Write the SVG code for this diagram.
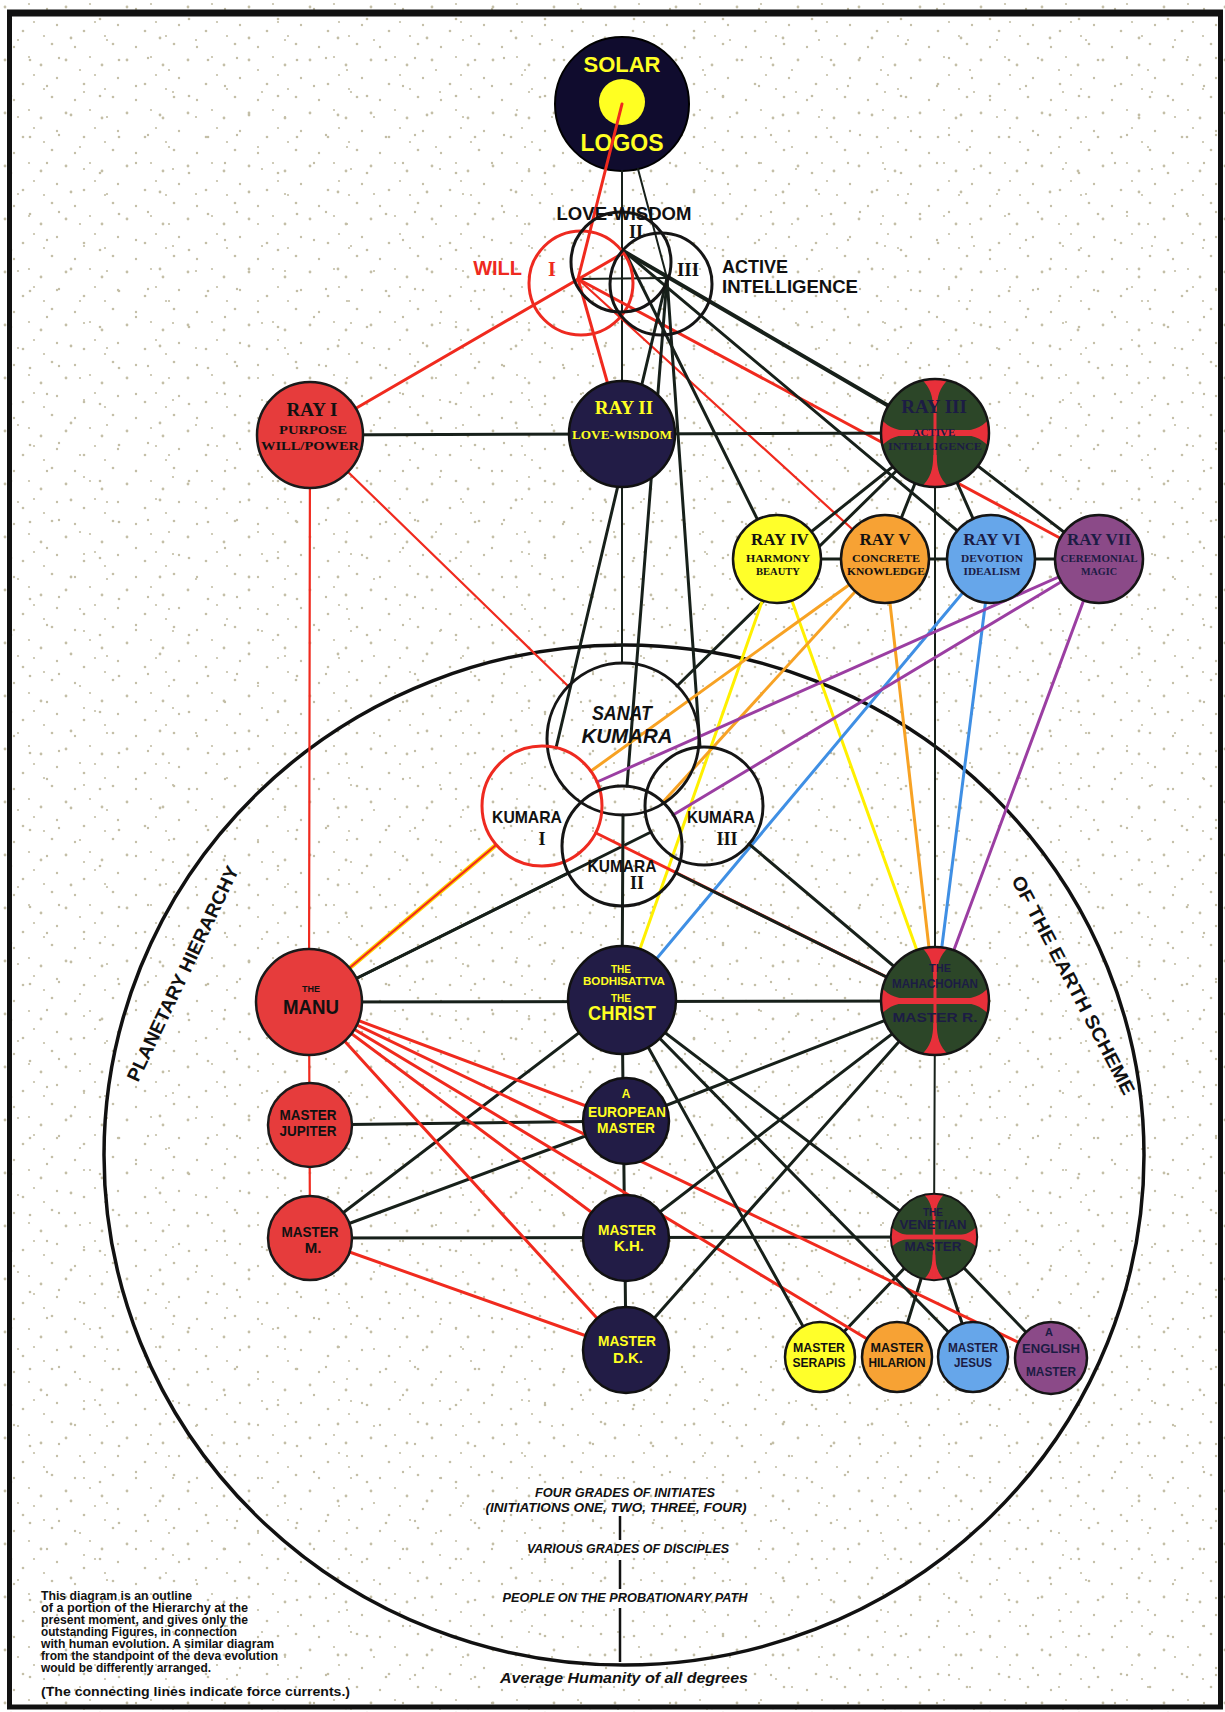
<svg xmlns="http://www.w3.org/2000/svg" width="1225" height="1712" viewBox="0 0 1225 1712">
<defs>
<style>
.k{stroke:#17201a;stroke-width:3;stroke-linecap:round}
.k2{stroke:#17201a;stroke-width:2;stroke-linecap:round}
.k4{stroke:#17201a;stroke-width:4;stroke-linecap:round}
.r{stroke:#f02a1e;stroke-width:3;stroke-linecap:round}
.r2{stroke:#f02a1e;stroke-width:2.2;stroke-linecap:round}
.y{stroke:#fff000;stroke-width:3;stroke-linecap:round}
.o{stroke:#f7a224;stroke-width:3;stroke-linecap:round}
.b{stroke:#3f8fe4;stroke-width:3;stroke-linecap:round}
.p{stroke:#9b3ea2;stroke-width:3;stroke-linecap:round}
.t{font-family:"Liberation Sans",Arial,sans-serif;font-weight:bold;text-anchor:middle}
.s{font-family:"Liberation Serif","Times New Roman",serif;font-weight:bold;text-anchor:middle}
.it{font-family:"Liberation Sans",Arial,sans-serif;font-weight:bold;font-style:italic;text-anchor:middle;fill:#111}
.n{font-family:"Liberation Sans",Arial,sans-serif;font-weight:bold;fill:#111;font-size:12px}
.ol{fill:none;stroke-width:3}
.red{fill:#e63c3c;stroke:#1a1a1a;stroke-width:2.5}
.navy{fill:#221c46;stroke:#111;stroke-width:2.5}
.yl{fill:#ffff22}
.dk{fill:#111}
.dg{fill:#1c1c44}
</style>
<pattern id="sp1" width="61" height="53" patternUnits="userSpaceOnUse">
<g fill="#c4bfa7"><circle cx="5" cy="7" r="1.4"/><circle cx="23" cy="31" r="1.3"/><circle cx="41" cy="12" r="1.4"/><circle cx="52" cy="44" r="1.3"/><circle cx="14" cy="47" r="1.2"/><circle cx="34" cy="22" r="1.1"/><circle cx="57" cy="25" r="1.2"/><circle cx="29" cy="4" r="1.1"/><circle cx="44" cy="36" r="1.1"/></g>
</pattern>
<pattern id="sp2" width="89" height="77" patternUnits="userSpaceOnUse">
<g fill="#c2bda5"><circle cx="11" cy="19" r="1.3"/><circle cx="47" cy="9" r="1.2"/><circle cx="71" cy="38" r="1.4"/><circle cx="30" cy="60" r="1.3"/><circle cx="80" cy="70" r="1.1"/><circle cx="59" cy="58" r="1.2"/><circle cx="18" cy="40" r="1.1"/><circle cx="84" cy="15" r="1.1"/></g>
</pattern>
<clipPath id="gc"><circle r="54"/></clipPath>
<path id="wedge" d="M-16,-56 C-5,-47 -2,-38 -1.6,-22 L1.6,-22 C2,-38 5,-47 16,-56 Z"/>
<g id="gnode">
<circle r="54" fill="#2c4628"/>
<g clip-path="url(#gc)" fill="#e8303a">
<use href="#wedge"/>
<use href="#wedge" transform="rotate(90)"/>
<use href="#wedge" transform="rotate(180)"/>
<use href="#wedge" transform="rotate(270)"/>
<rect x="-1.5" y="-54" width="3" height="108"/>
<rect x="-54" y="-3" width="108" height="6"/>
</g>
<circle r="54" fill="none" stroke="#151515" stroke-width="2.5"/>
</g>
</defs>

<rect width="1225" height="1712" fill="#ffffff"/>
<rect width="1225" height="1712" fill="url(#sp1)"/>
<rect width="1225" height="1712" fill="url(#sp2)"/>
<rect x="9.5" y="13" width="1211" height="1694" fill="none" stroke="#111" stroke-width="5"/>
<line x1="7" y1="13" x2="1223" y2="13" stroke="#111" stroke-width="7"/>

<g id="earth-scheme">
<ellipse cx="624" cy="1155" rx="520" ry="510" fill="none" stroke="#111" stroke-width="3.5"/>
<text class="t" font-size="19" fill="#111" transform="translate(138,1083) rotate(-64.6)" textLength="236" lengthAdjust="spacingAndGlyphs" style="text-anchor:start">PLANETARY HIERARCHY</text>
<text class="t" font-size="19" fill="#111" transform="translate(1011,880) rotate(62.4)" textLength="244" lengthAdjust="spacingAndGlyphs" style="text-anchor:start">OF THE EARTH SCHEME</text>
</g>

<g id="solar-logos">
<circle cx="622" cy="104" r="67" fill="#100c2e" stroke="#000" stroke-width="2"/>
<circle cx="622" cy="102" r="23" fill="#ffff22"/>
<text class="t yl" x="622" y="72" font-size="22">SOLAR</text>
<text class="t yl" x="622" y="151" font-size="23">LOGOS</text>
</g>

<g id="connectors" fill="none">
<line x1="622" y1="104" x2="578" y2="279" class="r"/>
<line x1="622" y1="171" x2="622" y2="434" class="k2"/>
<line x1="638" y1="169" x2="667" y2="278" class="k2"/>
<line x1="578" y1="279" x2="667" y2="278" class="k2"/>
<line x1="310" y1="435" x2="625" y2="252" class="r"/>
<line x1="578" y1="279" x2="622" y2="434" class="r"/>
<line x1="578" y1="279" x2="1099" y2="559" class="r"/>
<line x1="578" y1="279" x2="885" y2="559" class="r2"/>
<line x1="625" y1="252" x2="935" y2="433" class="k4"/>
<line x1="625" y1="252" x2="777" y2="559" class="k"/>
<line x1="625" y1="252" x2="991" y2="559" class="k"/>
<line x1="667" y1="278" x2="556" y2="748" class="k"/>
<line x1="667" y1="278" x2="627" y2="786" class="k"/>
<line x1="667" y1="278" x2="700" y2="747" class="k"/>
<line x1="310" y1="435" x2="622" y2="434" class="k"/>
<line x1="622" y1="434" x2="935" y2="433" class="k"/>
<line x1="310" y1="435" x2="309" y2="1002" class="r2"/>
<line x1="310" y1="435" x2="568" y2="686" class="r2"/>
<line x1="622" y1="434" x2="622" y2="663" class="k2"/>
<line x1="935" y1="433" x2="677" y2="686" class="k"/>
<line x1="935" y1="433" x2="777" y2="559" class="k"/>
<line x1="935" y1="433" x2="885" y2="559" class="k"/>
<line x1="935" y1="433" x2="991" y2="559" class="k"/>
<line x1="935" y1="433" x2="1099" y2="559" class="k"/>
<line x1="777" y1="559" x2="1099" y2="559" class="k"/>
<line x1="935" y1="433" x2="935" y2="1001" class="k2"/>
<line x1="777" y1="559" x2="622" y2="1000" class="y"/>
<line x1="777" y1="559" x2="935" y2="1001" class="y"/>
<line x1="885" y1="559" x2="591" y2="771" class="o"/>
<line x1="885" y1="559" x2="663" y2="802" class="o"/>
<line x1="885" y1="559" x2="935" y2="1001" class="o"/>
<line x1="991" y1="559" x2="622" y2="1000" class="b"/>
<line x1="991" y1="559" x2="935" y2="1001" class="b"/>
<line x1="1099" y1="559" x2="597" y2="782" class="p"/>
<line x1="1099" y1="559" x2="673" y2="815" class="p"/>
<line x1="1099" y1="559" x2="935" y2="1001" class="p"/>
<line x1="309" y1="1002" x2="496" y2="845" stroke="#ffd000" stroke-width="4.5"/>
<line x1="309" y1="1002" x2="496" y2="845" class="r2"/>
<line x1="309" y1="1002" x2="568" y2="873" class="k"/>
<line x1="309" y1="1002" x2="651" y2="832" class="k"/>
<line x1="596" y1="833" x2="935" y2="1001" class="r"/>
<line x1="676" y1="873" x2="935" y2="1001" class="k"/>
<line x1="749" y1="844" x2="935" y2="1001" class="k"/>
<line x1="623" y1="815" x2="622" y2="1000" class="k"/>
<line x1="309" y1="1002" x2="935" y2="1001" class="k"/>
<line x1="309" y1="1002" x2="310" y2="1238" class="r2"/>
<line x1="310" y1="1125" x2="626" y2="1121" class="k"/>
<line x1="310" y1="1238" x2="934" y2="1237" class="k"/>
<line x1="622" y1="1000" x2="626" y2="1350" class="k"/>
<line x1="935" y1="1001" x2="934" y2="1237" class="k2"/>
<line x1="934" y1="1237" x2="820" y2="1357" class="k"/>
<line x1="934" y1="1237" x2="897" y2="1357" class="k"/>
<line x1="934" y1="1237" x2="973" y2="1357" class="k"/>
<line x1="934" y1="1237" x2="1051" y2="1358" class="k"/>
<line x1="310" y1="1238" x2="622" y2="1000" class="k"/>
<line x1="310" y1="1238" x2="626" y2="1121" class="k"/>
<line x1="309" y1="1002" x2="626" y2="1121" class="r"/>
<line x1="309" y1="1002" x2="1051" y2="1358" class="r"/>
<line x1="309" y1="1002" x2="897" y2="1357" class="r"/>
<line x1="309" y1="1002" x2="626" y2="1238" class="r"/>
<line x1="309" y1="1002" x2="626" y2="1350" class="r"/>
<line x1="310" y1="1238" x2="626" y2="1350" class="r"/>
<line x1="622" y1="1000" x2="934" y2="1237" class="k"/>
<line x1="622" y1="1000" x2="973" y2="1357" class="k"/>
<line x1="622" y1="1000" x2="820" y2="1357" class="k"/>
<line x1="935" y1="1001" x2="626" y2="1121" class="k"/>
<line x1="935" y1="1001" x2="626" y2="1238" class="k"/>
<line x1="935" y1="1001" x2="626" y2="1350" class="k"/>
</g>

<g id="aspect-will">
<circle cx="581" cy="283" r="52" class="ol" stroke="#ee2a20" stroke-width="2.5"/>
<text class="t" x="522" y="275" font-size="20" fill="#ee2a20" style="text-anchor:end">WILL</text>
<text class="s" x="552" y="276" font-size="20" fill="#ee2a20">I</text>
</g>
<g id="aspect-love-wisdom">
<circle cx="621" cy="262" r="50" class="ol" stroke="#151515" stroke-width="2.5"/>
<text class="t dk" x="624" y="220" font-size="19" textLength="135" lengthAdjust="spacingAndGlyphs">LOVE-WISDOM</text>
<text class="s dk" x="636" y="238" font-size="18">II</text>
</g>
<g id="aspect-active-intelligence">
<circle cx="661" cy="284" r="51" class="ol" stroke="#151515" stroke-width="2.5"/>
<text class="s dk" x="688" y="276" font-size="19">III</text>
<text class="t dk" x="722" y="273" font-size="18" style="text-anchor:start">ACTIVE</text>
<text class="t dk" x="722" y="293" font-size="18" style="text-anchor:start" textLength="136" lengthAdjust="spacingAndGlyphs">INTELLIGENCE</text>
</g>

<g id="ray-1">
<circle cx="310" cy="435" r="53" class="red"/>
<text class="s dk" x="312" y="416" font-size="19">RAY I</text>
<text class="s dk" x="313" y="434" font-size="12" textLength="68" lengthAdjust="spacingAndGlyphs">PURPOSE</text>
<text class="s dk" x="310" y="450" font-size="12" textLength="98" lengthAdjust="spacingAndGlyphs">WILL/POWER</text>
</g>
<g id="ray-2">
<circle cx="622" cy="434" r="53" class="navy"/>
<text class="s yl" x="624" y="414" font-size="19">RAY II</text>
<text class="s yl" x="622" y="439" font-size="12" textLength="100" lengthAdjust="spacingAndGlyphs">LOVE-WISDOM</text>
</g>
<g id="ray-3">
<use href="#gnode" transform="translate(935,433)"/>
<text class="s dg" x="934" y="413" font-size="19">RAY III</text>
<text class="s dg" x="934" y="436" font-size="11">ACTIVE</text>
<text class="s dg" x="935" y="450" font-size="11" textLength="94" lengthAdjust="spacingAndGlyphs">INTELLIGENCE</text>
</g>
<g id="ray-4">
<circle cx="777" cy="559" r="44" fill="#ffff2a" stroke="#151515" stroke-width="2.5"/>
<text class="s dk" x="780" y="545" font-size="17">RAY IV</text>
<text class="s dk" x="778" y="562" font-size="11" textLength="64" lengthAdjust="spacingAndGlyphs">HARMONY</text>
<text class="s dk" x="778" y="575" font-size="11" textLength="44" lengthAdjust="spacingAndGlyphs">BEAUTY</text>
</g>
<g id="ray-5">
<circle cx="885" cy="559" r="44" fill="#f7a234" stroke="#151515" stroke-width="2.5"/>
<text class="s dk" x="885" y="545" font-size="17">RAY V</text>
<text class="s dk" x="886" y="562" font-size="11" textLength="68" lengthAdjust="spacingAndGlyphs">CONCRETE</text>
<text class="s dk" x="886" y="575" font-size="11" textLength="78" lengthAdjust="spacingAndGlyphs">KNOWLEDGE</text>
</g>
<g id="ray-6">
<circle cx="991" cy="559" r="44" fill="#66a6ea" stroke="#151515" stroke-width="2.5"/>
<text class="s dg" x="992" y="545" font-size="17">RAY VI</text>
<text class="s dg" x="992" y="562" font-size="11" textLength="62" lengthAdjust="spacingAndGlyphs">DEVOTION</text>
<text class="s dg" x="992" y="575" font-size="11" textLength="57" lengthAdjust="spacingAndGlyphs">IDEALISM</text>
</g>
<g id="ray-7">
<circle cx="1099" cy="559" r="44" fill="#8b4a88" stroke="#151515" stroke-width="2.5"/>
<text class="s dg" x="1099" y="545" font-size="17">RAY VII</text>
<text class="s dg" x="1099" y="562" font-size="11" textLength="77" lengthAdjust="spacingAndGlyphs">CEREMONIAL</text>
<text class="s dg" x="1099" y="575" font-size="11" textLength="36" lengthAdjust="spacingAndGlyphs">MAGIC</text>
</g>

<g id="sanat-kumara">
<circle cx="623" cy="739" r="76" class="ol" stroke="#151515" stroke-width="4"/>
<text class="it" x="622" y="720" font-size="21" textLength="60" lengthAdjust="spacingAndGlyphs">SANAT</text>
<text class="it" x="627" y="743" font-size="21" textLength="91" lengthAdjust="spacingAndGlyphs">KUMARA</text>
</g>
<g id="kumara-1">
<circle cx="542" cy="806" r="60" class="ol" stroke="#ee2a20" stroke-width="2.5"/>
<text class="t dk" x="527" y="823" font-size="17" textLength="70" lengthAdjust="spacingAndGlyphs">KUMARA</text>
<text class="s dk" x="542" y="845" font-size="18">I</text>
</g>
<g id="kumara-3">
<circle cx="704" cy="806" r="59" class="ol" stroke="#151515" stroke-width="3"/>
<text class="t dk" x="721" y="823" font-size="17" textLength="68" lengthAdjust="spacingAndGlyphs">KUMARA</text>
<text class="s dk" x="727" y="845" font-size="18">III</text>
</g>
<g id="kumara-2">
<circle cx="622" cy="846" r="60" class="ol" stroke="#151515" stroke-width="3"/>
<text class="t dk" x="622" y="872" font-size="17" textLength="69" lengthAdjust="spacingAndGlyphs">KUMARA</text>
<text class="s dk" x="637" y="889" font-size="18">II</text>
</g>

<g id="manu">
<circle cx="309" cy="1002" r="53" class="red"/>
<text class="t dk" x="311" y="992" font-size="9">THE</text>
<text class="t dk" x="311" y="1014" font-size="21" textLength="56" lengthAdjust="spacingAndGlyphs">MANU</text>
</g>
<g id="christ">
<circle cx="622" cy="1000" r="54" class="navy"/>
<text class="t yl" x="621" y="973" font-size="10">THE</text>
<text class="t yl" x="624" y="985" font-size="10" textLength="82" lengthAdjust="spacingAndGlyphs">BODHISATTVA</text>
<text class="t yl" x="621" y="1002" font-size="10">THE</text>
<text class="t yl" x="622" y="1020" font-size="20" textLength="68" lengthAdjust="spacingAndGlyphs">CHRIST</text>
</g>
<g id="mahachohan">
<use href="#gnode" transform="translate(935,1001)"/>
<text class="t dg" x="940" y="972" font-size="11">THE</text>
<text class="t dg" x="935" y="988" font-size="12" textLength="86" lengthAdjust="spacingAndGlyphs">MAHACHOHAN</text>
<text class="t dg" x="935" y="1022" font-size="12" textLength="85" lengthAdjust="spacingAndGlyphs">MASTER R.</text>
</g>
<g id="master-jupiter">
<circle cx="310" cy="1125" r="42" class="red"/>
<text class="t dk" x="308" y="1120" font-size="15" textLength="57" lengthAdjust="spacingAndGlyphs">MASTER</text>
<text class="t dk" x="308" y="1136" font-size="15" textLength="57" lengthAdjust="spacingAndGlyphs">JUPITER</text>
</g>
<g id="master-m">
<circle cx="310" cy="1238" r="42" class="red"/>
<text class="t dk" x="310" y="1237" font-size="15" textLength="57" lengthAdjust="spacingAndGlyphs">MASTER</text>
<text class="t dk" x="313" y="1253" font-size="15">M.</text>
</g>
<g id="european-master">
<circle cx="626" cy="1121" r="43" class="navy"/>
<text class="t yl" x="626" y="1098" font-size="12">A</text>
<text class="t yl" x="627" y="1117" font-size="15" textLength="78" lengthAdjust="spacingAndGlyphs">EUROPEAN</text>
<text class="t yl" x="626" y="1133" font-size="15" textLength="58" lengthAdjust="spacingAndGlyphs">MASTER</text>
</g>
<g id="master-kh">
<circle cx="626" cy="1238" r="43" class="navy"/>
<text class="t yl" x="627" y="1235" font-size="15" textLength="58" lengthAdjust="spacingAndGlyphs">MASTER</text>
<text class="t yl" x="629" y="1251" font-size="15">K.H.</text>
</g>
<g id="master-dk">
<circle cx="626" cy="1350" r="43" class="navy"/>
<text class="t yl" x="627" y="1346" font-size="15" textLength="58" lengthAdjust="spacingAndGlyphs">MASTER</text>
<text class="t yl" x="628" y="1363" font-size="15">D.K.</text>
</g>
<g id="venetian-master">
<use href="#gnode" transform="translate(934,1237) scale(0.8)"/>
<text class="t dg" x="933" y="1216" font-size="10">THE</text>
<text class="t dg" x="933" y="1229" font-size="12" textLength="67" lengthAdjust="spacingAndGlyphs">VENETIAN</text>
<text class="t dg" x="933" y="1251" font-size="12" textLength="57" lengthAdjust="spacingAndGlyphs">MASTER</text>
</g>
<g id="master-serapis">
<circle cx="820" cy="1357" r="35" fill="#ffff2a" stroke="#151515" stroke-width="2.5"/>
<text class="t dk" x="819" y="1352" font-size="12" textLength="52" lengthAdjust="spacingAndGlyphs">MASTER</text>
<text class="t dk" x="819" y="1367" font-size="12" textLength="53" lengthAdjust="spacingAndGlyphs">SERAPIS</text>
</g>
<g id="master-hilarion">
<circle cx="897" cy="1357" r="35" fill="#f7a234" stroke="#151515" stroke-width="2.5"/>
<text class="t dk" x="897" y="1352" font-size="12" textLength="53" lengthAdjust="spacingAndGlyphs">MASTER</text>
<text class="t dk" x="897" y="1367" font-size="12" textLength="57" lengthAdjust="spacingAndGlyphs">HILARION</text>
</g>
<g id="master-jesus">
<circle cx="973" cy="1357" r="35" fill="#66a6ea" stroke="#151515" stroke-width="2.5"/>
<text class="t dg" x="973" y="1352" font-size="12" textLength="50" lengthAdjust="spacingAndGlyphs">MASTER</text>
<text class="t dg" x="973" y="1367" font-size="12" textLength="38" lengthAdjust="spacingAndGlyphs">JESUS</text>
</g>
<g id="english-master">
<circle cx="1051" cy="1358" r="36" fill="#8b4a88" stroke="#151515" stroke-width="2.5"/>
<text class="t dg" x="1049" y="1336" font-size="11">A</text>
<text class="t dg" x="1051" y="1353" font-size="12" textLength="58" lengthAdjust="spacingAndGlyphs">ENGLISH</text>
<text class="t dg" x="1051" y="1376" font-size="12" textLength="50" lengthAdjust="spacingAndGlyphs">MASTER</text>
</g>

<g id="grades">
<text class="it" x="625" y="1497" font-size="12" textLength="180" lengthAdjust="spacingAndGlyphs">FOUR GRADES OF INITIATES</text>
<text class="it" x="616" y="1512" font-size="12" textLength="261" lengthAdjust="spacingAndGlyphs">(INITIATIONS ONE, TWO, THREE, FOUR)</text>
<line x1="620" y1="1516" x2="620" y2="1540" stroke="#111" stroke-width="2.5"/>
<text class="it" x="628" y="1553" font-size="12" textLength="202" lengthAdjust="spacingAndGlyphs">VARIOUS GRADES OF DISCIPLES</text>
<line x1="620" y1="1560" x2="620" y2="1589" stroke="#111" stroke-width="2.5"/>
<text class="it" x="625" y="1602" font-size="12" textLength="245" lengthAdjust="spacingAndGlyphs">PEOPLE ON THE PROBATIONARY PATH</text>
<line x1="620" y1="1608" x2="620" y2="1662" stroke="#111" stroke-width="2.5"/>
<text class="it" x="624" y="1683" font-size="15" textLength="248" lengthAdjust="spacingAndGlyphs">Average Humanity of all degrees</text>
</g>

<g id="note">
<text class="n" x="41" y="1600" textLength="151" lengthAdjust="spacingAndGlyphs">This diagram is an outline</text>
<text class="n" x="41" y="1612" textLength="207" lengthAdjust="spacingAndGlyphs">of a portion of the Hierarchy at the</text>
<text class="n" x="41" y="1624" textLength="207" lengthAdjust="spacingAndGlyphs">present moment, and gives only the</text>
<text class="n" x="41" y="1636" textLength="196" lengthAdjust="spacingAndGlyphs">outstanding Figures, in connection</text>
<text class="n" x="41" y="1648" textLength="233" lengthAdjust="spacingAndGlyphs">with human evolution.  A similar diagram</text>
<text class="n" x="41" y="1660" textLength="237" lengthAdjust="spacingAndGlyphs">from the standpoint of the deva evolution</text>
<text class="n" x="41" y="1672" textLength="170" lengthAdjust="spacingAndGlyphs">would be differently arranged.</text>
<text class="n" x="41" y="1696" textLength="309" lengthAdjust="spacingAndGlyphs">(The connecting lines indicate force currents.)</text>
</g>
</svg>
